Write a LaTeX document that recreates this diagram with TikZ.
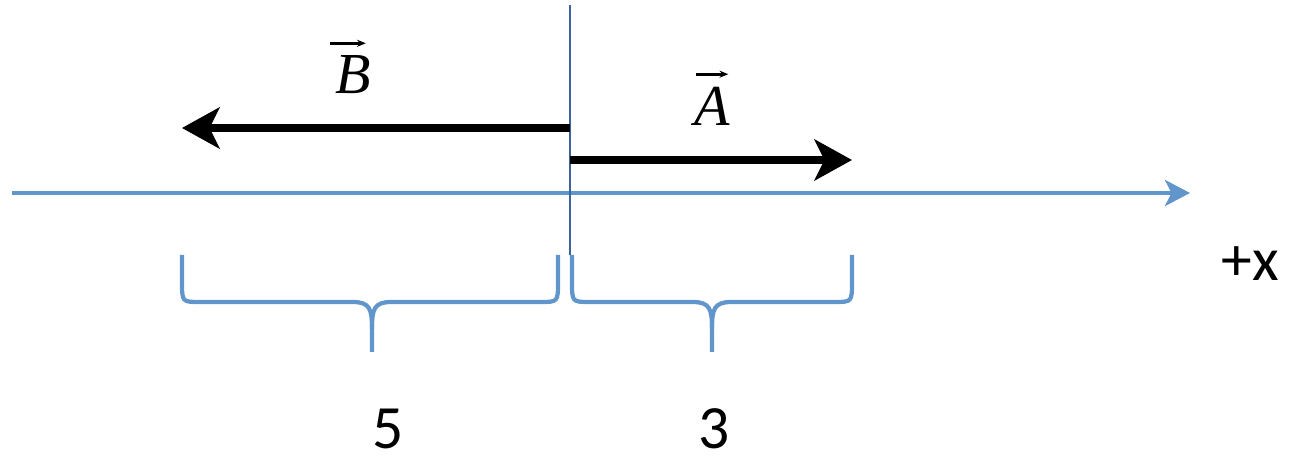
\documentclass[tikz,border=0pt]{standalone}
\usepackage{fontspec}
\setmainfont{Carlito}
\newfontfamily\vecfont{Liberation Serif}
\usepackage{tikz}
\usetikzlibrary{arrows.meta}
\tikzset{>=Stealth}
\definecolor{axisblue}{RGB}{97,150,204}
\definecolor{darkblue}{RGB}{58,100,160}
\tikzset{
  vecarrow/.style={-{Stealth[length=0.75cm,width=0.82cm,inset=0.2cm]}, line width=4.2pt, black},
  overarrow/.style={-{Stealth[length=5pt,width=4pt]}, line width=1.6pt, black},
  bracepath/.style={axisblue, line width=2.4pt, line join=round},
  biglabel/.style={font=\fontsize{35}{40}\selectfont, inner sep=0pt},
  veclabel/.style={font=\fontsize{33}{36}\vecfont\itshape, inner sep=0pt}
}

\begin{document}
\begin{tikzpicture}
                \useasboundingbox (0,0) rectangle (25.8,9.18);
                % eje x
                \coordinate (axL) at (0.24,5.32);
                \coordinate (axR) at (23.8,5.32);
                \draw[-{Stealth[length=0.5cm,width=0.52cm,inset=0.13cm]}, axisblue, line width=2.3pt] (axL) -- (axR);
                \node[biglabel] (xlab) at (25.0,3.9) {+x};
                % origen
                \coordinate (top) at (11.4,9.08);
                \coordinate (bot) at (11.4,4.08);
                \draw[darkblue, line width=1.3pt] (top) -- (bot);
                % vectores
                \coordinate (oB) at (11.4,6.62);
                \coordinate (eB) at (3.64,6.62);
                \draw[vecarrow] (oB) -- (eB);
                \coordinate (oA) at (11.4,5.98);
                \coordinate (eA) at (17.04,5.98);
                \draw[vecarrow] (oA) -- (eA);
                \node[veclabel] (labB) at (7.06,7.68) {B};
                \draw[overarrow] ([xshift=-3pt,yshift=7pt]labB.north west) -- ([xshift=-3pt,yshift=7pt]labB.north east);
                \node[veclabel] (labA) at (14.24,7.06) {A};
                \draw[overarrow] ([xshift=1pt,yshift=7pt]labA.north west) -- ([xshift=-1pt,yshift=7pt]labA.north east);
                % llave izquierda (5)
                \draw[bracepath] (3.64,4.08) -- (3.64,3.55)
                    .. controls (3.64,3.14) .. (4.0,3.14) -- (7.05,3.14)
                    .. controls (7.4,3.14) and (7.44,3.0) .. (7.44,2.6) -- (7.44,2.14);
                \draw[bracepath] (11.16,4.08) -- (11.16,3.55)
                    .. controls (11.16,3.14) .. (10.8,3.14) -- (7.83,3.14)
                    .. controls (7.48,3.14) and (7.44,3.0) .. (7.44,2.6);
                % llave derecha (3)
                \draw[bracepath] (11.44,4.08) -- (11.44,3.55)
                    .. controls (11.44,3.14) .. (11.8,3.14) -- (13.85,3.14)
                    .. controls (14.2,3.14) and (14.24,3.0) .. (14.24,2.6) -- (14.24,2.14);
                \draw[bracepath] (17.04,4.08) -- (17.04,3.55)
                    .. controls (17.04,3.14) .. (16.68,3.14) -- (14.63,3.14)
                    .. controls (14.28,3.14) and (14.24,3.0) .. (14.24,2.6);
                % magnitudes
                \node[biglabel] (five) at (7.76,0.6) {5};
                \node[biglabel] (three) at (14.28,0.6) {3};
            \end{tikzpicture}
\end{document}
